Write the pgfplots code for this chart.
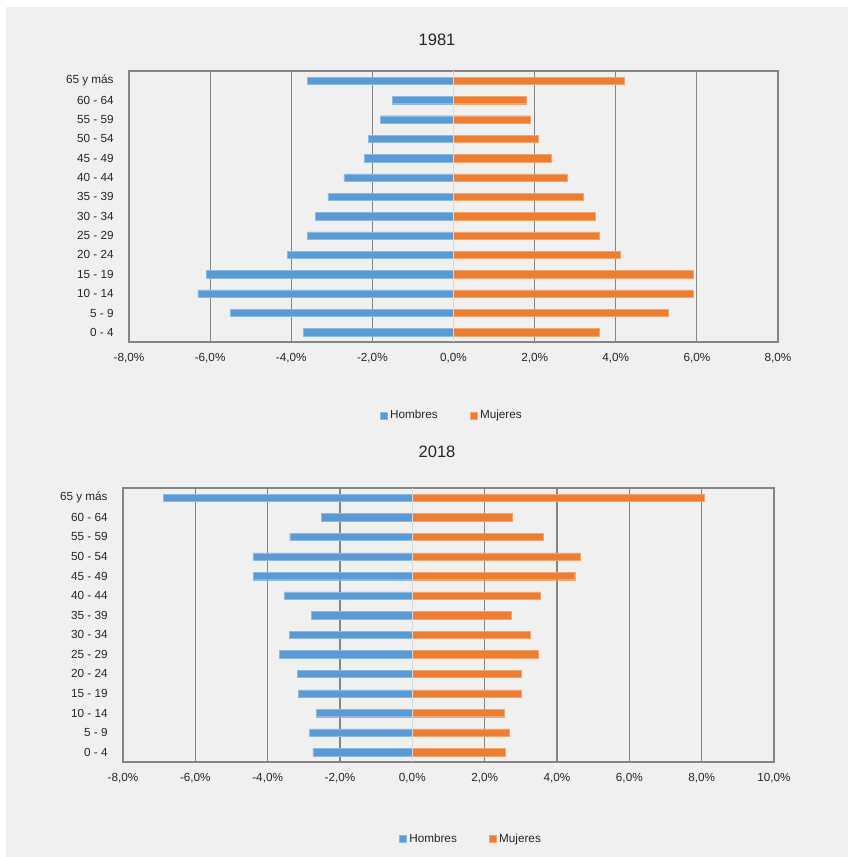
\documentclass[border=0pt]{standalone}
\usepackage{pgfplots}
\pgfplotsset{compat=1.18}
\usepackage{pgfplotstable}
\usepackage{fontspec}
\setmainfont{Liberation Sans}

\definecolor{hombres}{HTML}{5B9BD5}
\definecolor{mujeres}{HTML}{ED7D31}
\definecolor{panel}{HTML}{F0F0F0}
\definecolor{gridc}{HTML}{858585}
\definecolor{zeroc}{HTML}{D9D9D9}
\definecolor{txt}{HTML}{262626}

% 1 px of the reference = 0.75pt
\def\u{0.75pt}

% 1981: y = 0 is 0 - 4, y = 13 is 65 y mas
\pgfplotstableread{
y h m
0 -3.7 3.6
1 -5.5 5.3
2 -6.3 5.9
3 -6.1 5.9
4 -4.1 4.1
5 -3.6 3.6
6 -3.4 3.5
7 -3.1 3.2
8 -2.7 2.8
9 -2.2 2.4
10 -2.1 2.1
11 -1.8 1.9
12 -1.5 1.8
13 -3.6 4.2
}\datA

% 2018
\pgfplotstableread{
y h m
0 -2.75 2.56
1 -2.84 2.69
2 -2.65 2.53
3 -3.15 3.00
4 -3.18 3.00
5 -3.68 3.47
6 -3.41 3.25
7 -2.80 2.73
8 -3.53 3.53
9 -4.40 4.49
10 -4.41 4.64
11 -3.39 3.62
12 -2.51 2.76
13 -6.89 8.06
}\datB

\pgfplotsset{
  pyr/.style={
    scale only axis,
    xbar, bar width=5.5pt, bar shift=0pt,
    ymin=-0.5, ymax=13.5,
    ytick={0,...,13},
    yticklabels={0 - 4, 5 - 9, 10 - 14, 15 - 19, 20 - 24, 25 - 29, 30 - 34,
      35 - 39, 40 - 44, 45 - 49, 50 - 54, 55 - 59, 60 - 64, 65 y más},
    xtick distance=2,
    xmajorgrids,
    grid style={gridc, line width=0.8pt},
    axis line style={gridc, line width=1.1pt},
    major tick length=0pt,
    tick label style={font=\fontsize{8.8}{10}\selectfont, text=txt},
    /pgf/number format/assume math mode=true,
    xticklabel={\pgfmathprintnumber[fixed, fixed zerofill, precision=1, use comma]{\tick}\%},
    xticklabel style={yshift=-5pt},
    yticklabel style={xshift=-8pt},
    legend columns=2,
    legend style={draw=none, fill=none, font=\fontsize{8.8}{10}\selectfont, text=txt,
      /tikz/every even column/.append style={column sep=22pt}},
    legend image code/.code={\fill[##1] (0pt,-2.7pt) rectangle (5.4pt,2.7pt);},
    clip=false,
  }
}

\begin{document}
\begin{tikzpicture}
\fill[white] (0,0) rectangle (848*\u,-857*\u);
\fill[panel] (6*\u,-7*\u) rectangle (848*\u,-857*\u);

\node[font=\fontsize{12.4}{14}\selectfont, text=txt] at (437*\u,-40*\u) {1981};
\begin{axis}[pyr,
  at={(129*\u,-71*\u)}, anchor=north west,
  width=649*\u, height=271*\u,
  xmin=-8, xmax=8,
  legend style={at={(0.498,-0.272)}, anchor=center},
]
\addplot[fill=hombres, draw=hombres!70!white, line width=0.3pt] table[x=h, y=y] {\datA};
\addplot[fill=mujeres, draw=mujeres!70!white, line width=0.3pt] table[x=m, y=y] {\datA};
\draw[zeroc, line width=0.8pt] (axis cs:0,-0.5) -- (axis cs:0,13.5);
\legend{Hombres, Mujeres}
\end{axis}

\node[font=\fontsize{12.4}{14}\selectfont, text=txt] at (437*\u,-452*\u) {2018};
\begin{axis}[pyr,
  at={(123*\u,-488*\u)}, anchor=north west,
  width=651*\u, height=274*\u,
  xmin=-8, xmax=10,
  legend style={at={(0.535,-0.281)}, anchor=center},
]
\addplot[fill=hombres, draw=hombres!70!white, line width=0.3pt] table[x=h, y=y] {\datB};
\addplot[fill=mujeres, draw=mujeres!70!white, line width=0.3pt] table[x=m, y=y] {\datB};
\draw[zeroc, line width=0.8pt] (axis cs:0,-0.5) -- (axis cs:0,13.5);
\legend{Hombres, Mujeres}
\end{axis}
\end{tikzpicture}
\end{document}
